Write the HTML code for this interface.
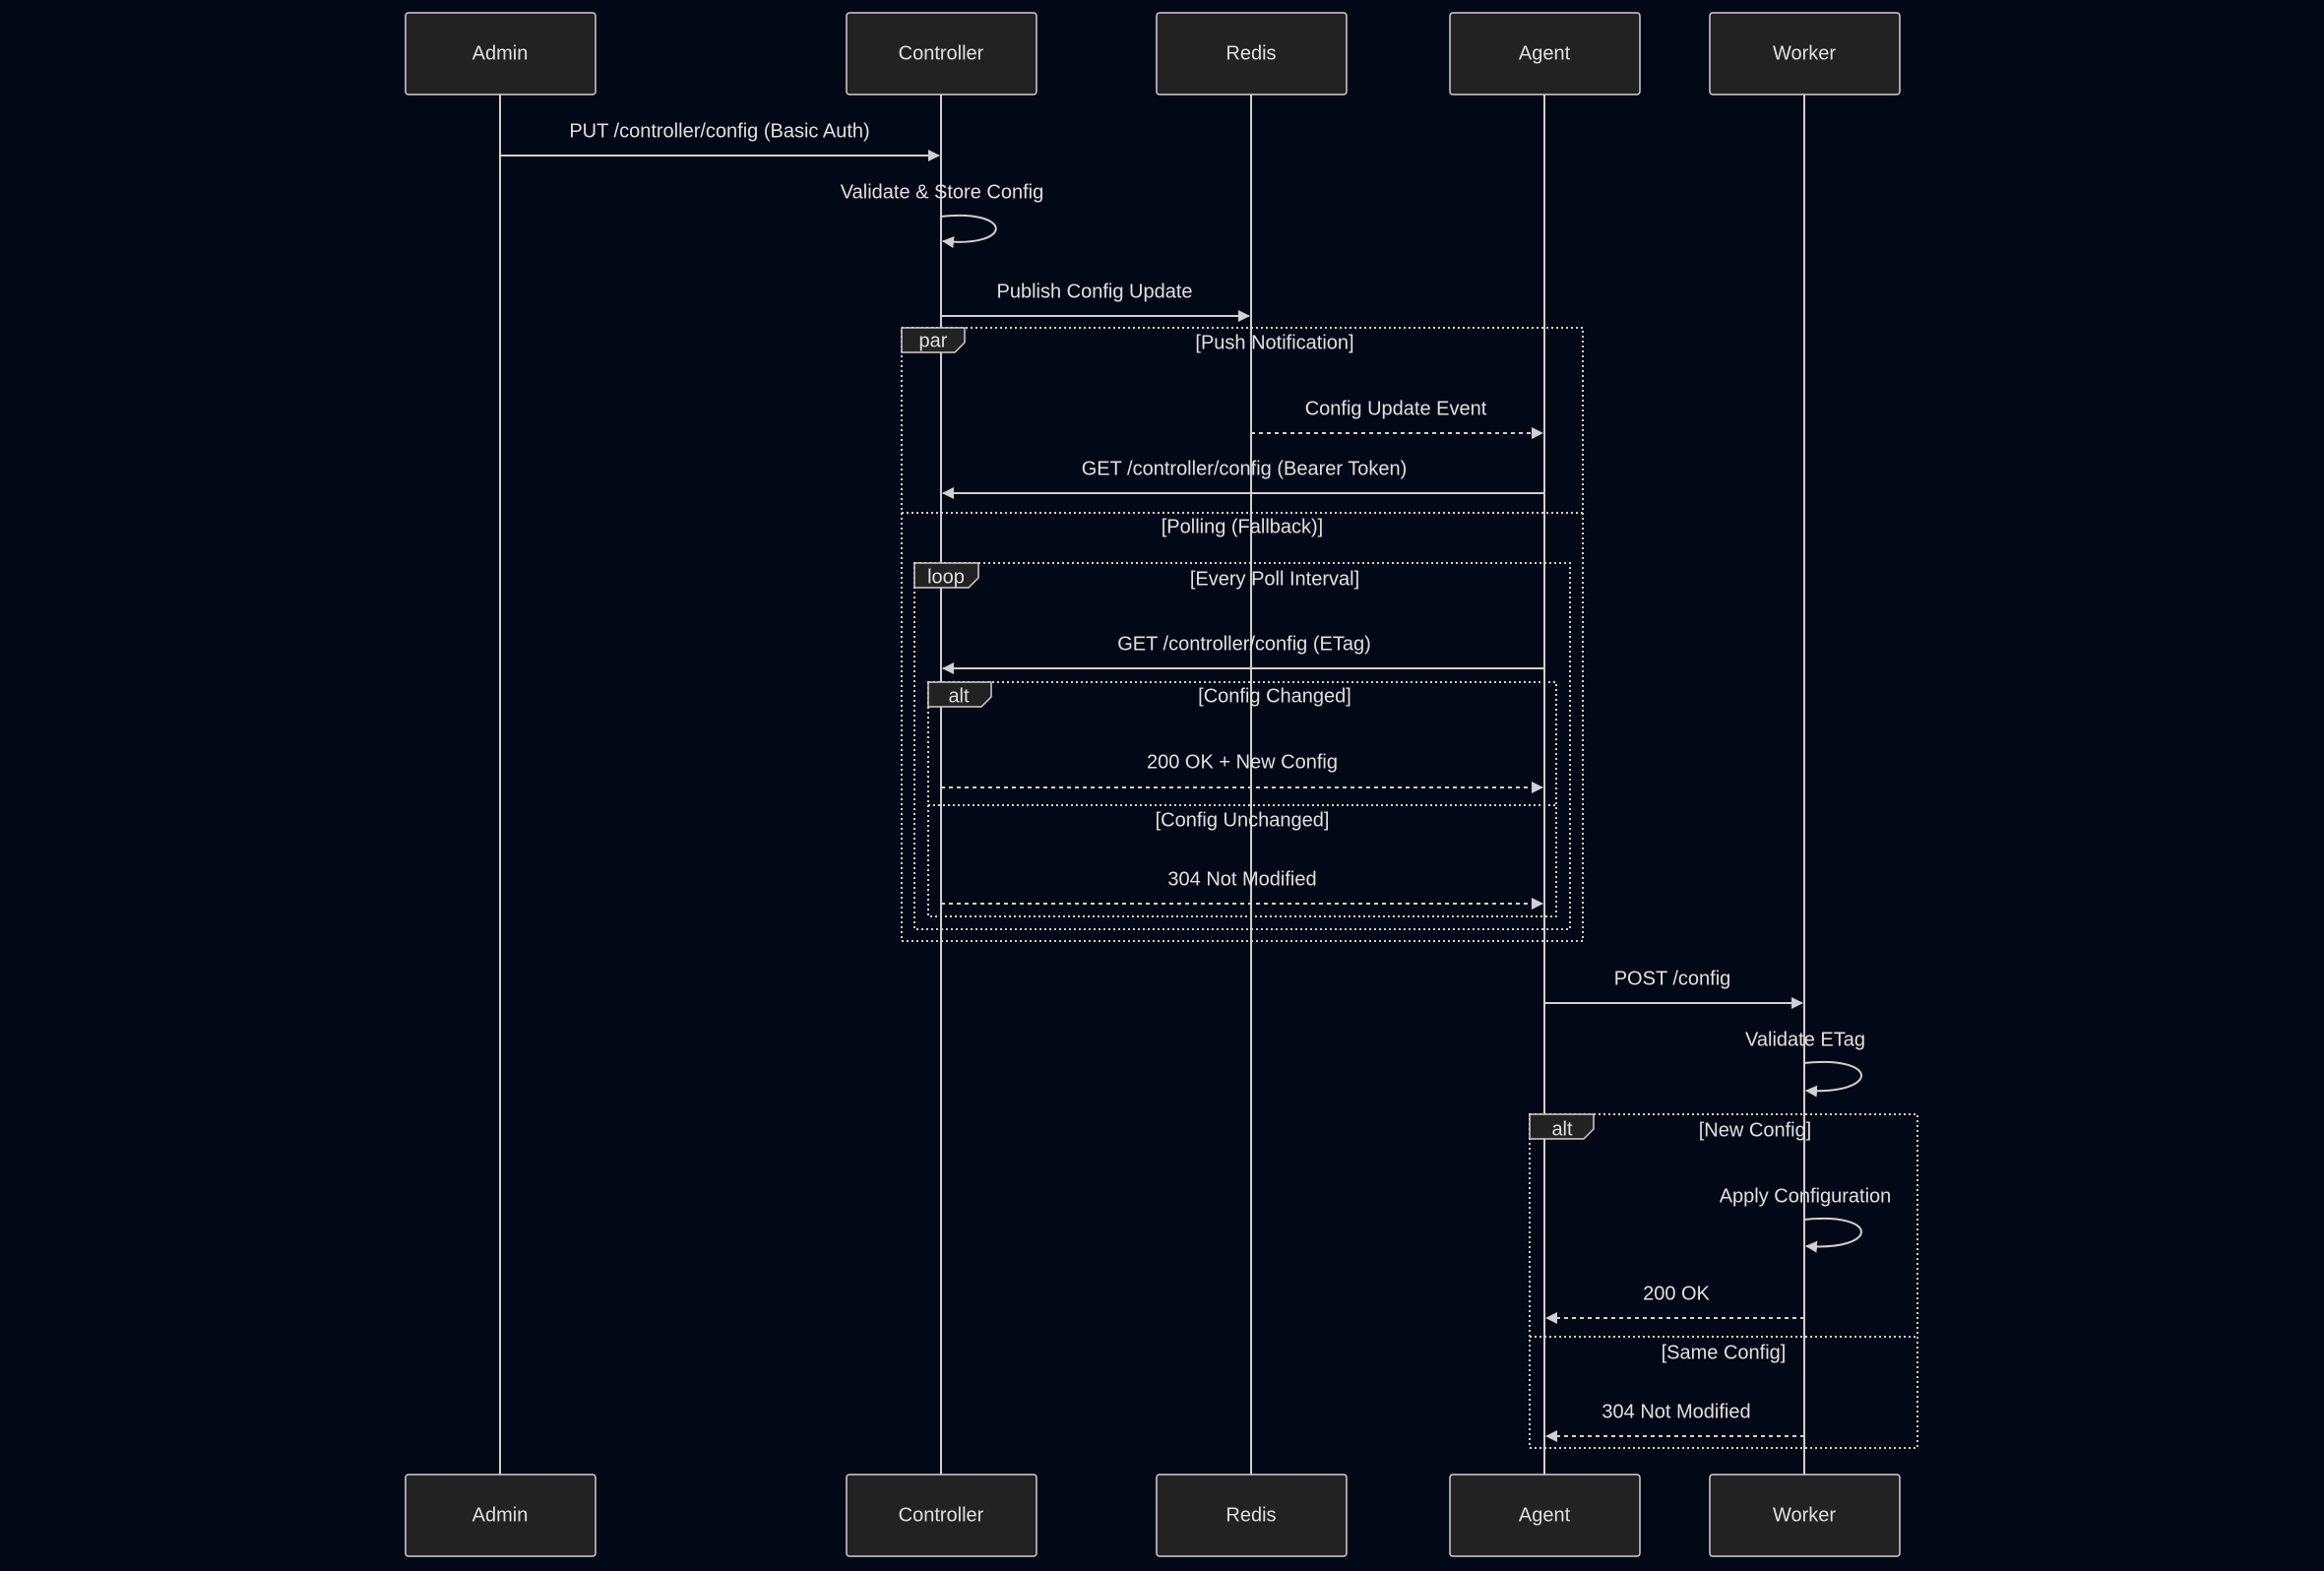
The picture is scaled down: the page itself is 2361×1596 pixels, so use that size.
<!DOCTYPE html>
<html><head><meta charset="utf-8"><style>
html,body{margin:0;padding:0;background:#030816;}
svg{display:block}
text{font-family:"Liberation Sans",sans-serif;font-size:20px;fill:#e0e0e0;text-anchor:middle;dominant-baseline:middle}
.ll{stroke:#cfcfcf;stroke-width:2}
.m{stroke:#d0d0d0;stroke-width:2;fill:none}
.d{stroke:#d0d0d0;stroke-width:2;fill:none;stroke-dasharray:4 4}
.f{stroke:#d0d0d0;stroke-width:2;fill:none;stroke-dasharray:2 3}
.box{fill:#222;stroke:#cfcfcf;stroke-width:1.5}
.lab{fill:#222;stroke:#cfcfcf;stroke-width:1.5}
</style></head><body>
<svg width="2361" height="1596" viewBox="0 0 2361 1596" xmlns="http://www.w3.org/2000/svg">
<defs>
<marker id="a" markerWidth="12" markerHeight="12" refX="11" refY="6" orient="auto" markerUnits="userSpaceOnUse"><path d="M0,0 L12,6 L0,12 z" fill="#d0d0d0"/></marker>
</defs>
<rect width="2361" height="1596" fill="#030816"/>
<!-- lifelines -->
<line class="ll" x1="508" y1="96" x2="508" y2="1498"/>
<line class="ll" x1="956" y1="96" x2="956" y2="1498"/>
<line class="ll" x1="1271" y1="96" x2="1271" y2="1498"/>
<line class="ll" x1="1569" y1="96" x2="1569" y2="1498"/>
<line class="ll" x1="1833" y1="96" x2="1833" y2="1498"/>
<!-- top boxes -->
<g>
<rect class="box" x="412" y="13" width="193" height="83" rx="3"/><text x="508" y="55">Admin</text>
<rect class="box" x="860" y="13" width="193" height="83" rx="3"/><text x="956" y="55">Controller</text>
<rect class="box" x="1175" y="13" width="193" height="83" rx="3"/><text x="1271" y="55">Redis</text>
<rect class="box" x="1473" y="13" width="193" height="83" rx="3"/><text x="1569" y="55">Agent</text>
<rect class="box" x="1737" y="13" width="193" height="83" rx="3"/><text x="1833" y="55">Worker</text>
</g>
<g>
<rect class="box" x="412" y="1498" width="193" height="83" rx="3"/><text x="508" y="1540">Admin</text>
<rect class="box" x="860" y="1498" width="193" height="83" rx="3"/><text x="956" y="1540">Controller</text>
<rect class="box" x="1175" y="1498" width="193" height="83" rx="3"/><text x="1271" y="1540">Redis</text>
<rect class="box" x="1473" y="1498" width="193" height="83" rx="3"/><text x="1569" y="1540">Agent</text>
<rect class="box" x="1737" y="1498" width="193" height="83" rx="3"/><text x="1833" y="1540">Worker</text>
</g>
<!-- messages -->
<text x="731" y="134">PUT /controller/config (Basic Auth)</text>
<line class="m" x1="508" y1="158" x2="954" y2="158" marker-end="url(#a)"/>
<text x="957" y="196">Validate &amp; Store Config</text>
<path class="m" d="M956,220 C1030,212 1030,252 958,245" marker-end="url(#a)"/>
<text x="1112" y="297">Publish Config Update</text>
<line class="m" x1="956" y1="321" x2="1269" y2="321" marker-end="url(#a)"/>

<!-- par -->
<rect class="f" x="916" y="333" width="692" height="623"/>
<path class="lab" d="M916,333 H980 V348 L970,358 H916 Z"/>
<text x="948" y="347">par</text>
<text x="1295" y="349">[Push Notification]</text>
<text x="1418" y="416">Config Update Event</text>
<line class="d" x1="1271" y1="440" x2="1567" y2="440" marker-end="url(#a)"/>
<text x="1264" y="477">GET /controller/config (Bearer Token)</text>
<line class="m" x1="1569" y1="501" x2="958" y2="501" marker-end="url(#a)"/>
<line class="f" x1="916" y1="521" x2="1608" y2="521"/>
<text x="1262" y="536">[Polling (Fallback)]</text>

<!-- loop -->
<rect class="f" x="929" y="572" width="666" height="372"/>
<path class="lab" d="M929,572 H994 V587 L984,597 H929 Z"/>
<text x="961" y="587">loop</text>
<text x="1295" y="589">[Every Poll Interval]</text>
<text x="1264" y="655">GET /controller/config (ETag)</text>
<line class="m" x1="1569" y1="679" x2="958" y2="679" marker-end="url(#a)"/>

<!-- alt inner -->
<rect class="f" x="943" y="693" width="638" height="238"/>
<path class="lab" d="M943,693 H1007 V708 L997,718 H943 Z"/>
<text x="974" y="708">alt</text>
<text x="1295" y="708">[Config Changed]</text>
<text x="1262" y="775">200 OK + New Config</text>
<line class="d" x1="956" y1="800" x2="1567" y2="800" marker-end="url(#a)"/>
<line class="f" x1="943" y1="818" x2="1581" y2="818"/>
<text x="1262" y="834">[Config Unchanged]</text>
<text x="1262" y="894">304 Not Modified</text>
<line class="d" x1="956" y1="918" x2="1567" y2="918" marker-end="url(#a)"/>

<text x="1699" y="995">POST /config</text>
<line class="m" x1="1569" y1="1019" x2="1831" y2="1019" marker-end="url(#a)"/>
<text x="1834" y="1057">Validate ETag</text>
<path class="m" d="M1833,1080 C1910,1072 1910,1112 1835,1108" marker-end="url(#a)"/>

<!-- alt 2 -->
<rect class="f" x="1554" y="1132" width="394" height="339"/>
<path class="lab" d="M1554,1132 H1619 V1147 L1609,1157 H1554 Z"/>
<text x="1587" y="1148">alt</text>
<text x="1783" y="1149">[New Config]</text>
<text x="1834" y="1216">Apply Configuration</text>
<path class="m" d="M1833,1239 C1910,1231 1910,1271 1835,1266" marker-end="url(#a)"/>
<text x="1703" y="1315">200 OK</text>
<line class="d" x1="1833" y1="1339" x2="1571" y2="1339" marker-end="url(#a)"/>
<line class="f" x1="1554" y1="1358" x2="1948" y2="1358"/>
<text x="1751" y="1375">[Same Config]</text>
<text x="1703" y="1435">304 Not Modified</text>
<line class="d" x1="1833" y1="1459" x2="1571" y2="1459" marker-end="url(#a)"/>
</svg>
</body></html>
